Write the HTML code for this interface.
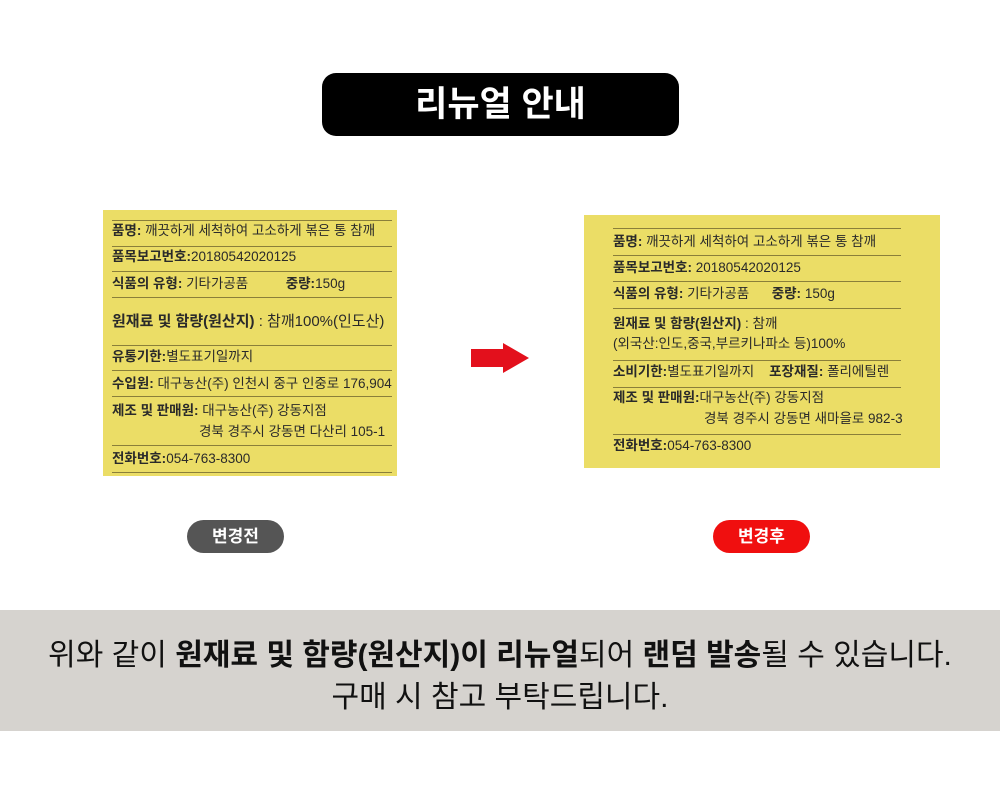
<!DOCTYPE html>
<html><head><meta charset="utf-8"><style>
*{margin:0;padding:0;box-sizing:border-box}
body{width:1000px;height:797px;background:#fff;position:relative;overflow:hidden;font-family:"Liberation Sans","Noto Sans CJK KR",sans-serif;color:#222}
.a{position:absolute;white-space:nowrap}
.title{left:322px;top:73px;width:357px;height:63px;background:#000;border-radius:14px;color:#fff;font-size:35px;font-weight:bold;text-align:center;line-height:63px}
.box{position:absolute;background:#ebdd66}
.ln{position:absolute;height:1px;background:#8a7f3a}
.t{position:absolute;white-space:nowrap;font-size:13.5px;color:#2a2a2a;line-height:16px}
.t b{font-weight:bold}
.pill{position:absolute;height:33px;border-radius:17px;color:#fff;font-size:17px;font-weight:bold;text-align:center;line-height:33px}
.band{position:absolute;left:0;top:610px;width:1000px;height:121px;background:#d6d3cf}
.bt{position:absolute;left:0;width:1000px;text-align:center;font-size:30px;color:#111;white-space:nowrap}
</style></head><body>
<div class="a title">리뉴얼 안내</div>

<div class="box" style="left:103px;top:210px;width:294px;height:266px"></div>
<div class="ln" style="left:112px;top:220px;width:280px"></div>
<div class="ln" style="left:112px;top:246px;width:280px"></div>
<div class="ln" style="left:112px;top:271px;width:280px"></div>
<div class="ln" style="left:112px;top:297px;width:280px"></div>
<div class="ln" style="left:112px;top:345px;width:280px"></div>
<div class="ln" style="left:112px;top:370px;width:280px"></div>
<div class="ln" style="left:112px;top:396px;width:280px"></div>
<div class="ln" style="left:112px;top:445px;width:280px"></div>
<div class="ln" style="left:112px;top:472px;width:280px"></div>
<div class="t" style="left:112px;top:223px"><b>품명:</b> 깨끗하게 세척하여 고소하게 볶은 통 참깨</div>
<div class="t" style="left:112px;top:249px"><b>품목보고번호:</b>20180542020125</div>
<div class="t" style="left:112px;top:276px"><b>식품의 유형:</b> 기타가공품 &nbsp;&nbsp;&nbsp;&nbsp;&nbsp;&nbsp;&nbsp;&nbsp;&nbsp;<b>중량:</b>150g</div>
<div class="t" style="left:112px;top:314px;font-size:15px"><b>원재료 및 함량(원산지)</b> : 참깨100%(인도산)</div>
<div class="t" style="left:112px;top:349px"><b>유통기한:</b>별도표기일까지</div>
<div class="t" style="left:112px;top:376px"><b>수입원:</b> 대구농산(주) 인천시 중구 인중로 176,904</div>
<div class="t" style="left:112px;top:403px"><b>제조 및 판매원:</b> 대구농산(주) 강동지점</div>
<div class="t" style="left:199px;top:424px">경북 경주시 강동면 다산리 105-1</div>
<div class="t" style="left:112px;top:451px"><b>전화번호:</b>054-763-8300</div>

<svg class="a" style="left:469px;top:341px" width="62" height="34"><polygon points="2,8 34,8 34,2 60,17 34,32 34,26 2,26" fill="#e3101c"/></svg>

<div class="box" style="left:584px;top:215px;width:356px;height:253px"></div>
<div class="ln" style="left:613px;top:228px;width:288px"></div>
<div class="ln" style="left:613px;top:255px;width:288px"></div>
<div class="ln" style="left:613px;top:281px;width:288px"></div>
<div class="ln" style="left:613px;top:308px;width:288px"></div>
<div class="ln" style="left:613px;top:360px;width:288px"></div>
<div class="ln" style="left:613px;top:387px;width:288px"></div>
<div class="ln" style="left:613px;top:434px;width:288px"></div>
<div class="t" style="left:613px;top:234px"><b>품명:</b> 깨끗하게 세척하여 고소하게 볶은 통 참깨</div>
<div class="t" style="left:613px;top:260px"><b>품목보고번호:</b> 20180542020125</div>
<div class="t" style="left:613px;top:286px"><b>식품의 유형:</b> 기타가공품 &nbsp;&nbsp;&nbsp;&nbsp;&nbsp;<b>중량:</b> 150g</div>
<div class="t" style="left:613px;top:316px"><b>원재료 및 함량(원산지)</b> : 참깨</div>
<div class="t" style="left:613px;top:336px">(외국산:인도,중국,부르키나파소 등)100%</div>
<div class="t" style="left:613px;top:364px"><b>소비기한:</b>별도표기일까지 &nbsp;&nbsp;&nbsp;<b>포장재질:</b> 폴리에틸렌</div>
<div class="t" style="left:613px;top:390px"><b>제조 및 판매원:</b>대구농산(주) 강동지점</div>
<div class="t" style="left:704px;top:411px">경북 경주시 강동면 새마을로 982-3</div>
<div class="t" style="left:613px;top:438px"><b>전화번호:</b>054-763-8300</div>

<div class="pill" style="left:187px;top:520px;width:97px;background:#555">변경전</div>
<div class="pill" style="left:713px;top:520px;width:97px;background:#f00f0f">변경후</div>

<div class="band"></div>
<div class="bt" style="top:630px">위와 같이 <b>원재료 및 함량(원산지)이 리뉴얼</b>되어 <b>랜덤 발송</b>될 수 있습니다.</div>
<div class="bt" style="top:672px">구매 시 참고 부탁드립니다.</div>
</body></html>
